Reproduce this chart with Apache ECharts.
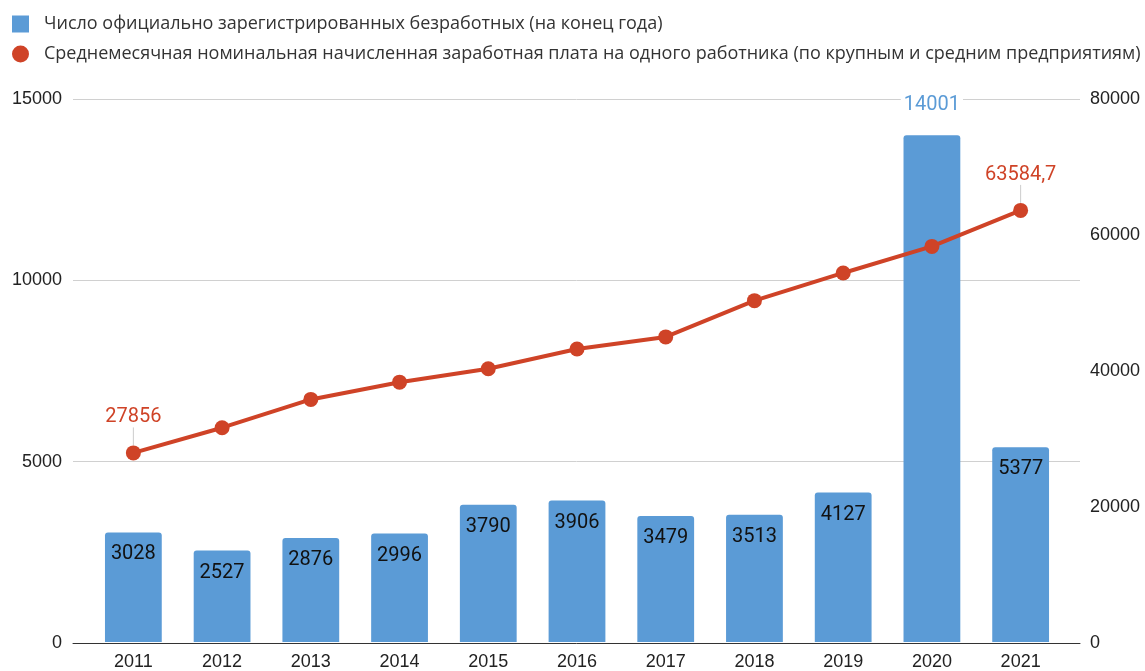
<!DOCTYPE html>
<html>
<head>
<meta charset="utf-8">
<script src="https://cdn.jsdelivr.net/npm/echarts@6/dist/echarts.min.js"></script>
<style>
  html, body { margin: 0; padding: 0; background: #fff; }
  #chart { width: 1145px; height: 671px; }
</style>
</head>
<body>
<div id="chart"></div>
<script>
// данные
var years = ['2011', '2012', '2013', '2014', '2015', '2016', '2017', '2018', '2019', '2020', '2021'];
var unemployed = [3028, 2527, 2876, 2996, 3790, 3906, 3479, 3513, 4127, 14001, 5377];
var salary = [27856, 31570, 35740, 38280, 40250, 43160, 44950, 50290, 54370, 58280, 63584.7];
var leftTicks = { min: 0, max: 15000, interval: 5000 };
var rightTicks = { min: 0, max: 80000, interval: 20000 };

var barName = 'Число официально зарегистрированных безработных (на конец года)';
var lineName = 'Среднемесячная номинальная начисленная заработная плата на одного работника (по крупным и средним предприятиям)';

var blue = '#5b9bd6';
var red = '#cf4327';

var barData = unemployed.map(function (v, i) {
  if (v === Math.max.apply(null, unemployed)) {
    return {
      value: v,
      label: {
        position: 'top', distance: 20, color: blue,
        backgroundColor: '#fff', padding: [0, 3]
      }
    };
  }
  return v;
});

var lineData = salary.map(function (v, i) {
  if (i === 0 || i === salary.length - 1) {
    return { value: v, label: { show: true } };
  }
  return v;
});

function plain(v) { return String(v); }

var chart = echarts.init(document.getElementById('chart'));
chart.setOption({
  animation: false,
  legend: {
    orient: 'vertical',
    left: 7,
    top: 10,
    itemWidth: 17,
    itemHeight: 17,
    itemGap: 12,
    textStyle: { fontFamily: 'Open Sans', fontSize: 18, color: '#333', padding: [0, 0, 0, 10] },
    data: [
      { name: barName, icon: 'rect' },
      { name: lineName, icon: 'circle' }
    ]
  },
  grid: [
    { left: 89, right: 80, top: 99, bottom: 28 },
    { left: 73, right: 65, top: 99, bottom: 28 }
  ],
  xAxis: [
    {
      type: 'category', gridIndex: 0, data: years,
      axisLine: { show: false },
      axisTick: { show: false },
      axisLabel: { margin: 11, fontFamily: 'Liberation Sans', fontSize: 18, color: '#222' }
    },
    {
      type: 'category', gridIndex: 1, data: years,
      axisLine: { show: true, lineStyle: { color: '#333', width: 1 } },
      axisTick: { show: false },
      axisLabel: { show: false }
    }
  ],
  yAxis: [
    {
      type: 'value', gridIndex: 0, position: 'left',
      min: leftTicks.min, max: leftTicks.max, interval: leftTicks.interval,
      axisLabel: { show: false }, splitLine: { show: false }
    },
    {
      type: 'value', gridIndex: 0, position: 'right',
      min: rightTicks.min, max: rightTicks.max, interval: rightTicks.interval,
      axisLabel: { show: false }, splitLine: { show: false }
    },
    {
      type: 'value', gridIndex: 1, position: 'left',
      min: leftTicks.min, max: leftTicks.max, interval: leftTicks.interval,
      axisLine: { show: false }, axisTick: { show: false },
      axisLabel: { margin: 11, fontFamily: 'Liberation Sans', fontSize: 18, color: '#222', formatter: plain },
      splitLine: { lineStyle: { color: '#d0d0d0', width: 1 } }
    },
    {
      type: 'value', gridIndex: 1, position: 'right',
      min: rightTicks.min, max: rightTicks.max, interval: rightTicks.interval,
      axisLine: { show: false }, axisTick: { show: false },
      axisLabel: { margin: 10, fontFamily: 'Liberation Sans', fontSize: 18, color: '#222', formatter: plain },
      splitLine: { show: false }
    }
  ],
  series: [
    {
      name: barName,
      type: 'bar',
      xAxisIndex: 0,
      yAxisIndex: 0,
      barWidth: '64%',
      data: barData,
      itemStyle: { color: blue, borderRadius: [3, 3, 0, 0] },
      label: {
        show: true,
        position: 'insideTop',
        distance: 12,
        fontFamily: 'Roboto',
        fontSize: 20,
        color: '#111'
      },
      z: 2
    },
    {
      name: lineName,
      type: 'line',
      xAxisIndex: 0,
      yAxisIndex: 1,
      data: lineData,
      symbol: 'circle',
      symbolSize: 15,
      lineStyle: { color: red, width: 4 },
      itemStyle: { color: red },
      label: {
        show: false,
        position: 'top',
        distance: 6,
        fontFamily: 'Roboto',
        fontSize: 20,
        color: red,
        formatter: function (p) { return String(p.value).replace('.', ','); }
      },
      labelLayout: { dy: -12 },
      labelLine: { show: true, lineStyle: { color: '#cccccc', width: 1 } },
      z: 3
    }
  ]
});
</script>
</body>
</html>
